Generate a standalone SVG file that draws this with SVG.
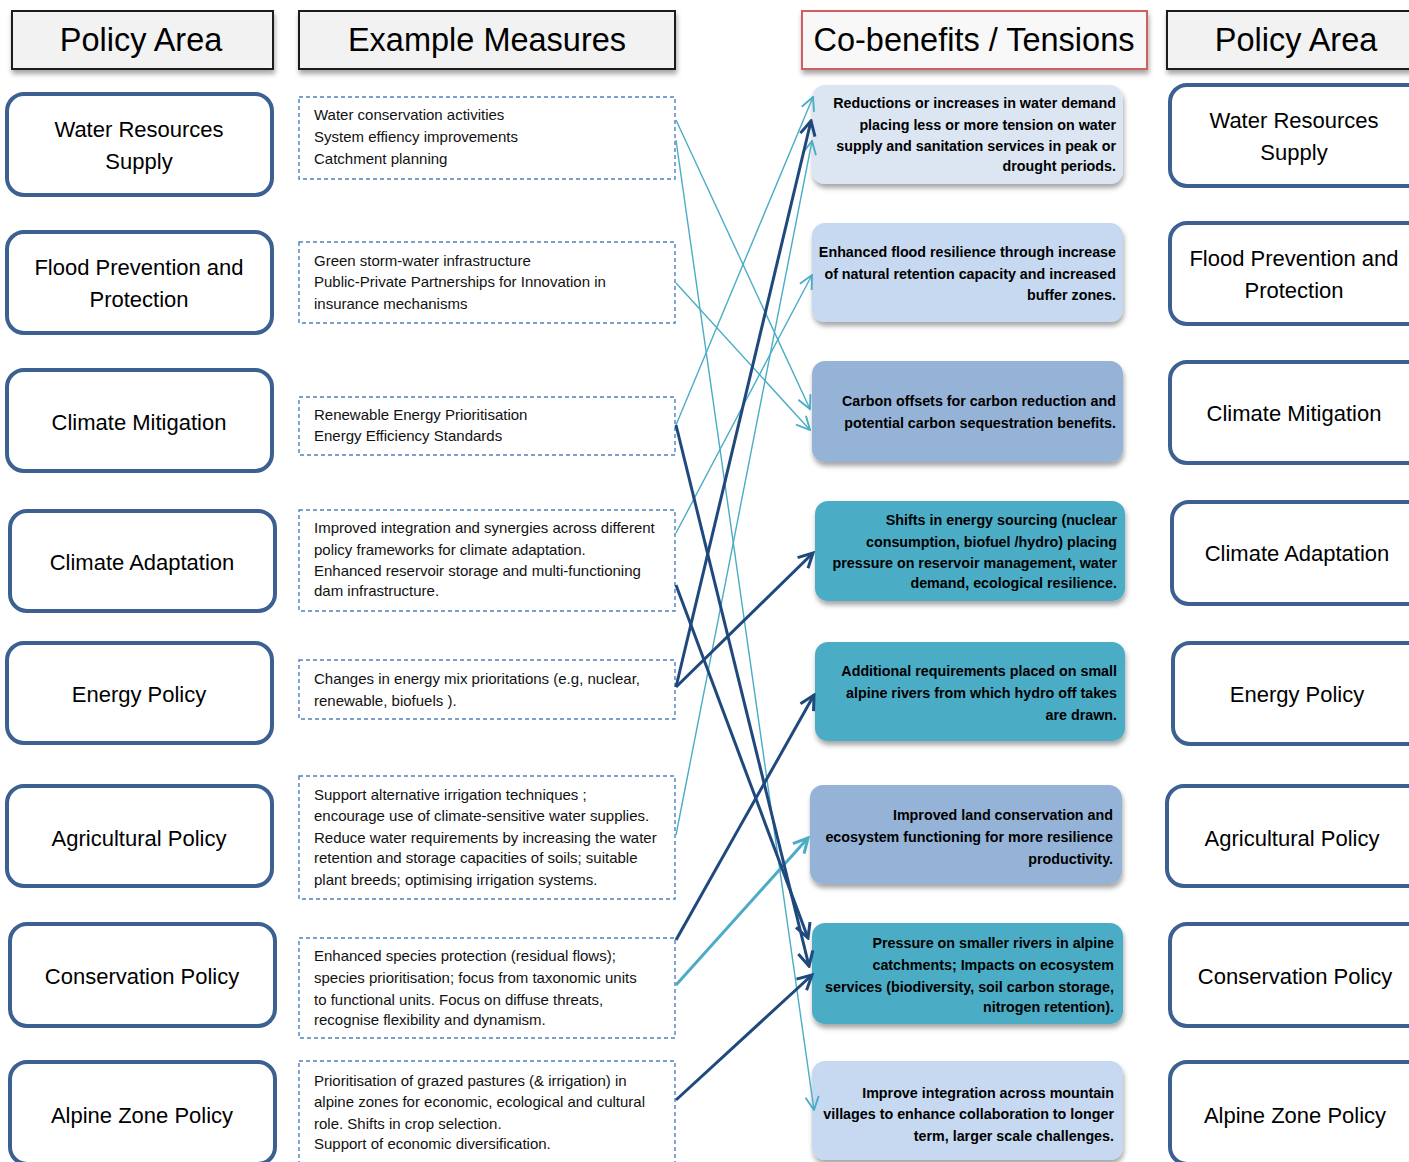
<svg xmlns="http://www.w3.org/2000/svg" width="1409" height="1162" viewBox="0 0 1409 1162">
<defs>
<filter id="sh" x="-10%" y="-10%" width="125%" height="130%">
<feDropShadow dx="1" dy="4" stdDeviation="2.5" flood-color="#000" flood-opacity="0.35"/>
</filter>
<marker id="aL" markerUnits="userSpaceOnUse" markerWidth="16" markerHeight="16" viewBox="0 0 12 12" refX="11" refY="6" orient="auto">
<path d="M1,1 L11,6 L1,11" fill="none" stroke="#4bacc6" stroke-width="1.4"/>
</marker>
<marker id="aLT" markerUnits="userSpaceOnUse" markerWidth="18" markerHeight="18" viewBox="0 0 12 12" refX="10.5" refY="6" orient="auto">
<path d="M1,1 L10.5,6 L1,11" fill="none" stroke="#4bacc6" stroke-width="2"/>
</marker>
<marker id="aD" markerUnits="userSpaceOnUse" markerWidth="18" markerHeight="18" viewBox="0 0 12 12" refX="10.5" refY="6" orient="auto">
<path d="M1,1 L10.5,6 L1,11" fill="none" stroke="#1f497d" stroke-width="2"/>
</marker>
</defs>
<style>
.hdr{fill:#f2f2f2;stroke:#1a1a1a;stroke-width:2}
.hdrR{fill:#f8f8f8;stroke:#d0605e;stroke-width:2}
.ht{font-family:"Liberation Sans",Arial,sans-serif;font-size:32.5px;fill:#000;text-anchor:middle}
.pol{fill:#fff;stroke:#3c6091;stroke-width:4}
.pt{font-family:"Liberation Sans",Arial,sans-serif;font-size:22px;fill:#000;text-anchor:middle}
.ms{fill:#fff;stroke:#4f81bd;stroke-width:1.4;stroke-dasharray:4 3}
.mt{font-family:"Liberation Sans",Arial,sans-serif;font-size:15px;fill:#111}
.cb{filter:url(#sh)}
.ct{font-family:"Liberation Sans",Arial,sans-serif;font-size:14.3px;font-weight:bold;fill:#000;text-anchor:end}
.c1{fill:#dce6f2}.c2{fill:#c6d9f1}.c3{fill:#95b3d7}.c4{fill:#4bacc6}
.lL{stroke:#4bacc6;stroke-width:1.4;fill:none;marker-end:url(#aL)}
.lLT{stroke:#4bacc6;stroke-width:3;fill:none;marker-end:url(#aLT)}
.lD{stroke:#1f497d;stroke-width:3;fill:none;marker-end:url(#aD)}
</style>
<rect width="1409" height="1162" fill="#fff"/>

<g id="headers">
<g id="h-policy-left"><rect class="hdr" x="12" y="11" width="261" height="58" filter="url(#sh)"/><text class="ht" x="141" y="51">Policy Area</text></g>
<g id="h-measures"><rect class="hdr" x="299" y="11" width="376" height="58" filter="url(#sh)"/><text class="ht" x="487" y="51">Example Measures</text></g>
<g id="h-cobenefits"><rect class="hdrR" x="802" y="11" width="345" height="58" filter="url(#sh)"/><text class="ht" x="974" y="51">Co-benefits / Tensions</text></g>
<g id="h-policy-right"><rect class="hdr" x="1167" y="11" width="260" height="58" filter="url(#sh)"/><text class="ht" x="1296" y="51">Policy Area</text></g>
</g>

<g id="policy-left">
<g id="pl1"><rect class="pol" x="7" y="94" width="265" height="101" rx="17"/><text class="pt" x="139" y="137">Water Resources</text><text class="pt" x="139" y="169">Supply</text></g>
<g id="pl2"><rect class="pol" x="7" y="232" width="265" height="101" rx="17"/><text class="pt" x="139" y="275">Flood Prevention and</text><text class="pt" x="139" y="307">Protection</text></g>
<g id="pl3"><rect class="pol" x="7" y="370" width="265" height="101" rx="17"/><text class="pt" x="139" y="430">Climate Mitigation</text></g>
<g id="pl4"><rect class="pol" x="10" y="511" width="265" height="100" rx="17"/><text class="pt" x="142" y="570">Climate Adaptation</text></g>
<g id="pl5"><rect class="pol" x="7" y="643" width="265" height="100" rx="17"/><text class="pt" x="139" y="702">Energy Policy</text></g>
<g id="pl6"><rect class="pol" x="7" y="786" width="265" height="100" rx="17"/><text class="pt" x="139" y="846">Agricultural Policy</text></g>
<g id="pl7"><rect class="pol" x="10" y="924" width="265" height="102" rx="17"/><text class="pt" x="142" y="984">Conservation Policy</text></g>
<g id="pl8"><rect class="pol" x="10" y="1062" width="265" height="102" rx="17"/><text class="pt" x="142" y="1123">Alpine Zone Policy</text></g>
</g>

<g id="measures">
<g id="m1"><rect class="ms" x="299" y="97" width="376" height="82"/>
<text class="mt" x="314" y="120">Water conservation activities</text><text class="mt" x="314" y="142">System effiency improvements</text><text class="mt" x="314" y="164">Catchment planning</text></g>
<g id="m2"><rect class="ms" x="299" y="242" width="376" height="81"/>
<text class="mt" x="314" y="266">Green storm-water infrastructure</text><text class="mt" x="314" y="287">Public-Private Partnerships for Innovation in</text><text class="mt" x="314" y="309">insurance mechanisms</text></g>
<g id="m3"><rect class="ms" x="299" y="397" width="376" height="58"/>
<text class="mt" x="314" y="420">Renewable Energy Prioritisation</text><text class="mt" x="314" y="441">Energy Efficiency Standards</text></g>
<g id="m4"><rect class="ms" x="299" y="510" width="376" height="101"/>
<text class="mt" x="314" y="533">Improved integration and synergies across different</text><text class="mt" x="314" y="555">policy frameworks for climate adaptation.</text><text class="mt" x="314" y="576">Enhanced reservoir storage and multi-functioning</text><text class="mt" x="314" y="596">dam infrastructure.</text></g>
<g id="m5"><rect class="ms" x="299" y="660" width="376" height="59"/>
<text class="mt" x="314" y="684">Changes in energy mix prioritations (e.g, nuclear,</text><text class="mt" x="314" y="706">renewable, biofuels ).</text></g>
<g id="m6"><rect class="ms" x="299" y="776" width="376" height="123"/>
<text class="mt" x="314" y="800">Support alternative irrigation techniques ;</text><text class="mt" x="314" y="821">encourage use of climate-sensitive water supplies.</text><text class="mt" x="314" y="843">Reduce water requirements by increasing the water</text><text class="mt" x="314" y="863">retention and storage capacities of soils; suitable</text><text class="mt" x="314" y="885">plant breeds; optimising irrigation systems.</text></g>
<g id="m7"><rect class="ms" x="299" y="938" width="376" height="100"/>
<text class="mt" x="314" y="961">Enhanced species protection (residual flows);</text><text class="mt" x="314" y="983">species prioritisation; focus  from taxonomic units</text><text class="mt" x="314" y="1005">to functional units. Focus on diffuse threats,</text><text class="mt" x="314" y="1025">recognise flexibility and dynamism.</text></g>
<g id="m8"><rect class="ms" x="299" y="1061" width="376" height="110"/>
<text class="mt" x="314" y="1086">Prioritisation of grazed pastures  (&amp; irrigation) in</text><text class="mt" x="314" y="1107">alpine zones for economic, ecological and cultural</text><text class="mt" x="314" y="1129">role. Shifts in crop selection.</text><text class="mt" x="314" y="1149">Support of economic diversification.</text></g>
</g>

<g id="cobenefits">
<g id="cb1"><rect class="cb c1" x="812" y="85" width="311" height="99" rx="13"/>
<text class="ct" x="1116" y="108">Reductions or increases in water demand</text><text class="ct" x="1116" y="130">placing less or more tension on water</text><text class="ct" x="1116" y="151">supply and sanitation services in peak or</text><text class="ct" x="1116" y="171">drought periods.</text></g>
<g id="cb2"><rect class="cb c2" x="812" y="223" width="311" height="99" rx="13"/>
<text class="ct" x="1116" y="257">Enhanced flood resilience through increase</text><text class="ct" x="1116" y="279">of natural retention capacity and increased</text><text class="ct" x="1116" y="300">buffer zones.</text></g>
<g id="cb3"><rect class="cb c3" x="812" y="361" width="311" height="101" rx="13"/>
<text class="ct" x="1116" y="406">Carbon offsets for carbon reduction and</text><text class="ct" x="1116" y="428">potential carbon sequestration benefits.</text></g>
<g id="cb4"><rect class="cb c4" x="815" y="501" width="310" height="100" rx="13"/>
<text class="ct" x="1117" y="525">Shifts in energy sourcing (nuclear</text><text class="ct" x="1117" y="547">consumption, biofuel /hydro) placing</text><text class="ct" x="1117" y="568">pressure on reservoir management, water</text><text class="ct" x="1117" y="588">demand, ecological resilience.</text></g>
<g id="cb5"><rect class="cb c4" x="815" y="642" width="310" height="99" rx="13"/>
<text class="ct" x="1117" y="676">Additional requirements placed on small</text><text class="ct" x="1117" y="698">alpine rivers from which hydro off takes</text><text class="ct" x="1117" y="720">are drawn.</text></g>
<g id="cb6"><rect class="cb c3" x="810" y="785" width="312" height="99" rx="13"/>
<text class="ct" x="1113" y="820">Improved land conservation and</text><text class="ct" x="1113" y="842">ecosystem functioning for more resilience</text><text class="ct" x="1113" y="864">productivity.</text></g>
<g id="cb7"><rect class="cb c4" x="812" y="923" width="311" height="101" rx="13"/>
<text class="ct" x="1114" y="948">Pressure on smaller rivers in alpine</text><text class="ct" x="1114" y="970">catchments; Impacts on ecosystem</text><text class="ct" x="1114" y="992">services (biodiversity, soil carbon storage,</text><text class="ct" x="1114" y="1012">nitrogen retention).</text></g>
<g id="cb8"><rect class="cb c2" x="812" y="1061" width="311" height="99" rx="13"/>
<text class="ct" x="1114" y="1098">Improve integration across mountain</text><text class="ct" x="1114" y="1119">villages to enhance collaboration to longer</text><text class="ct" x="1114" y="1141">term, larger scale challenges.</text></g>
</g>

<g id="policy-right">
<g id="pr1"><rect class="pol" x="1170" y="85" width="262" height="101" rx="17"/><text class="pt" x="1294" y="128">Water Resources</text><text class="pt" x="1294" y="160">Supply</text></g>
<g id="pr2"><rect class="pol" x="1170" y="223" width="262" height="101" rx="17"/><text class="pt" x="1294" y="266">Flood Prevention and</text><text class="pt" x="1294" y="298">Protection</text></g>
<g id="pr3"><rect class="pol" x="1170" y="362" width="262" height="101" rx="17"/><text class="pt" x="1294" y="421">Climate Mitigation</text></g>
<g id="pr4"><rect class="pol" x="1172" y="502" width="262" height="102" rx="17"/><text class="pt" x="1297" y="561">Climate Adaptation</text></g>
<g id="pr5"><rect class="pol" x="1173" y="643" width="262" height="101" rx="17"/><text class="pt" x="1297" y="702">Energy Policy</text></g>
<g id="pr6"><rect class="pol" x="1167" y="786" width="262" height="100" rx="17"/><text class="pt" x="1292" y="846">Agricultural Policy</text></g>
<g id="pr7"><rect class="pol" x="1170" y="924" width="262" height="102" rx="17"/><text class="pt" x="1295" y="984">Conservation Policy</text></g>
<g id="pr8"><rect class="pol" x="1170" y="1062" width="262" height="102" rx="17"/><text class="pt" x="1295" y="1123">Alpine Zone Policy</text></g>
</g>

<g id="connectors">
<line class="lL" x1="676" y1="120" x2="810" y2="409"/>
<line class="lL" x1="676" y1="140" x2="814" y2="1110"/>
<line class="lL" x1="676" y1="283" x2="810" y2="430"/>
<line class="lL" x1="676" y1="425" x2="813" y2="97"/>
<line class="lL" x1="676" y1="533" x2="812" y2="275"/>
<line class="lL" x1="676" y1="835" x2="812" y2="141"/>
<line class="lLT" x1="676" y1="985" x2="808" y2="838"/>
<line class="lD" x1="676" y1="425" x2="809" y2="966"/>
<line class="lD" x1="676" y1="585" x2="808" y2="938"/>
<line class="lD" x1="676" y1="687" x2="811" y2="121" stroke-width="3.8"/>
<line class="lD" x1="676" y1="687" x2="813" y2="553"/>
<line class="lD" x1="676" y1="940" x2="814" y2="695"/>
<line class="lD" x1="676" y1="1100" x2="812" y2="975"/>
</g>
</svg>
